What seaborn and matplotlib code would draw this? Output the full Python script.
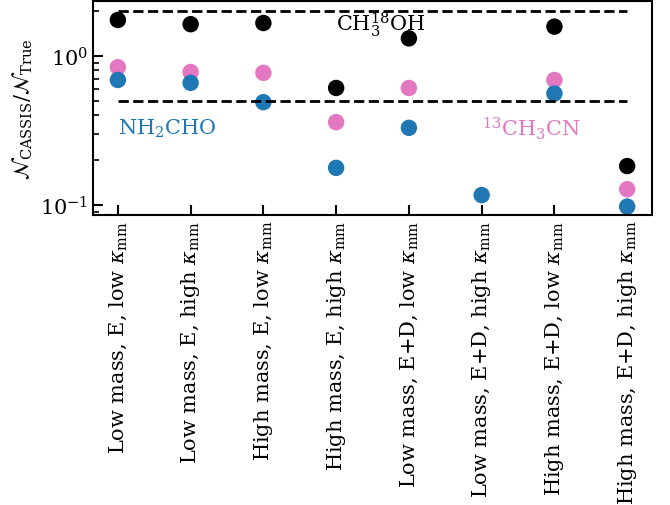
import numpy as np
import pandas as pd
import seaborn as sns
import matplotlib
matplotlib.use('Agg')
import matplotlib.pyplot as plt

# Models on the x axis
models = ['Low mass, E, low $\\kappa_{\\rm mm}$',
          'Low mass, E, high $\\kappa_{\\rm mm}$',
          'High mass, E, low $\\kappa_{\\rm mm}$',
          'High mass, E, high $\\kappa_{\\rm mm}$',
          'Low mass, E+D, low $\\kappa_{\\rm mm}$',
          'Low mass, E+D, high $\\kappa_{\\rm mm}$',
          'High mass, E+D, low $\\kappa_{\\rm mm}$',
          'High mass, E+D, high $\\kappa_{\\rm mm}$']

# N_CASSIS / N_True ratios per molecule
ch3_18oh = [1.74, 1.63, 1.66, 0.61, 1.31, np.nan, 1.57, 0.183]
ch3cn_13 = [0.84, 0.78, 0.77, 0.36, 0.61, np.nan, 0.69, 0.128]
nh2cho = [0.69, 0.66, 0.49, 0.178, 0.33, 0.117, 0.56, 0.098]

molecules = ['CH3-18OH', '13CH3CN', 'NH2CHO']
colors = {'CH3-18OH': 'black', '13CH3CN': '#e377c2', 'NH2CHO': '#1f77b4'}

df = pd.DataFrame({
    'x': list(range(len(models))) * 3,
    'ratio': ch3_18oh + ch3cn_13 + nh2cho,
    'mol': [m for m in molecules for _ in models],
}).dropna()

sns.set_style('ticks')
plt.rcParams['font.family'] = 'serif'
plt.rcParams['font.serif'] = ['DejaVu Serif']
plt.rcParams['mathtext.fontset'] = 'dejavuserif'
for k in ['text.color', 'axes.labelcolor', 'xtick.color', 'ytick.color', 'axes.edgecolor']:
    plt.rcParams[k] = 'black'

fig = plt.figure(figsize=(6.7, 5.06), dpi=100)
ax = fig.add_axes([0.139, 0.573, 0.834, 0.423])

sns.scatterplot(data=df, x='x', y='ratio', hue='mol', palette=colors,
                hue_order=molecules, s=140, edgecolor='none', legend=False, ax=ax)

ax.hlines([2.0, 0.5], 0, len(models) - 1, colors='black', linestyles='--', lw=2)

ax.set_yscale('log')
ax.set_ylim(0.086, 2.33)
ax.set_xlim(-0.34, len(models) - 1 + 0.34)
ax.set_xticks(range(len(models)))
ax.set_xticklabels(models, rotation=90, fontsize=15)
ax.set_xlabel('')
ax.set_ylabel('$\\mathcal{N}_{\\rm CASSIS}/\\mathcal{N}_{\\rm True}$', fontsize=15)

ax.text(3.0, 1.65, 'CH$_3^{18}$OH', color='black', fontsize=15, va='center')
ax.text(0.0, 0.33, 'NH$_2$CHO', color='#1f77b4', fontsize=15, va='center')
ax.text(5.0, 0.33, '$^{13}$CH$_3$CN', color='#e377c2', fontsize=15, va='center')

ax.tick_params(axis='both', which='major', direction='in', length=7, width=1.5, labelsize=15)
ax.tick_params(axis='y', which='minor', direction='in', length=4, width=1.2)
for sp in ax.spines.values():
    sp.set_linewidth(1.5)

fig.savefig('out.png', dpi=100)
